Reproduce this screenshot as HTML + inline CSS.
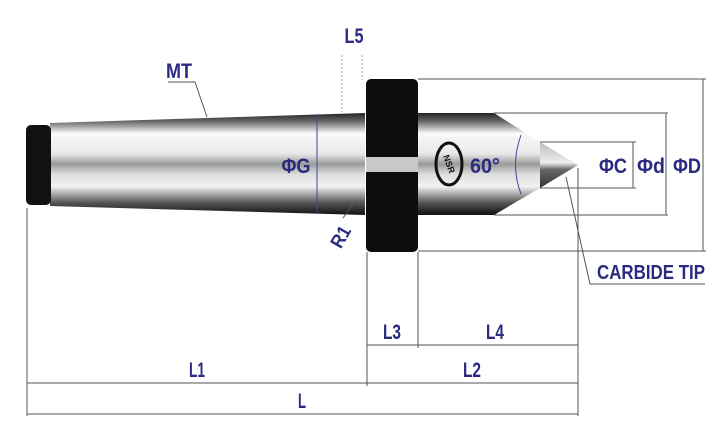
<!DOCTYPE html>
<html><head><meta charset="utf-8"><style>
html,body{margin:0;padding:0;background:#fff;width:728px;height:431px;overflow:hidden}
text{font-family:"Liberation Sans Narrow","Liberation Sans",sans-serif;fill:#2b2a80;font-weight:bold}
</style></head><body>
<svg width="728" height="431" viewBox="0 0 728 431" xmlns="http://www.w3.org/2000/svg">
<defs>
<linearGradient id="sh" x1="0" y1="0" x2="0" y2="1">
<stop offset="0" stop-color="#222"/><stop offset="0.08" stop-color="#666"/><stop offset="0.2" stop-color="#fafafa"/><stop offset="0.4" stop-color="#e8e8e8"/><stop offset="0.5" stop-color="#9a9a9a"/><stop offset="0.6" stop-color="#ddd"/><stop offset="0.72" stop-color="#f2f2f2"/><stop offset="0.88" stop-color="#555"/><stop offset="1" stop-color="#111"/>
</linearGradient>
<linearGradient id="tip" x1="0" y1="0" x2="0" y2="1">
<stop offset="0" stop-color="#bbb"/><stop offset="0.45" stop-color="#eee"/><stop offset="0.6" stop-color="#666"/><stop offset="1" stop-color="#333"/>
</linearGradient>
</defs>
<path d="M50 123 L365 113 L365 215 L50 206 Z" fill="url(#sh)"/>
<rect x="26" y="125" width="25" height="80" rx="5" fill="#111"/>
<rect x="366" y="79" width="52" height="173" rx="5" fill="#0d0d0d"/>
<rect x="366" y="157" width="52" height="15" fill="#c8c8c8"/>
<rect x="418" y="113" width="77" height="102" fill="url(#sh)"/>
<path d="M494 113 L540 142 L540 188 L494 215 Z" fill="url(#sh)"/>
<path d="M540 142 L578 165 L540 188 Z" fill="url(#tip)"/>
<ellipse cx="449" cy="164" rx="13" ry="21" fill="none" stroke="#111" stroke-width="3"/>
<text x="449" y="167" font-size="9" style="fill:#111" text-anchor="middle" transform="rotate(70 449 164)">NSR</text>
<g stroke="#555" stroke-width="1" fill="none">
<line x1="27" y1="208" x2="27" y2="416"/>
<line x1="367" y1="252" x2="367" y2="386"/>
<line x1="418" y1="252" x2="418" y2="348"/>
<line x1="578" y1="168" x2="578" y2="416"/>
<line x1="27" y1="414" x2="578" y2="414"/>
<line x1="27" y1="383" x2="578" y2="383"/>
<line x1="367" y1="345" x2="578" y2="345"/>
<line x1="418" y1="79" x2="706" y2="79"/>
<line x1="418" y1="251" x2="706" y2="251"/>
<line x1="703" y1="79" x2="703" y2="251"/>
<line x1="494" y1="113" x2="668" y2="113"/>
<line x1="494" y1="215" x2="668" y2="215"/>
<line x1="666" y1="113" x2="666" y2="215"/>
<line x1="540" y1="142" x2="636" y2="142"/>
<line x1="540" y1="188" x2="636" y2="188"/>
<line x1="633" y1="142" x2="633" y2="188"/>
<polyline points="168,82 195,82 207,117"/>
<polyline points="566,177 590,284 705,284"/>
<line x1="343" y1="218" x2="356" y2="200"/>
</g>
<g stroke="#aaa" stroke-dasharray="2,2" stroke-width="1">
<line x1="342" y1="55" x2="342" y2="112"/><line x1="362" y1="55" x2="362" y2="80"/>
</g>
<line x1="317" y1="114" x2="317" y2="214" stroke="#3a4aa0" stroke-width="1"/>
<path d="M521 135 Q510 165 521 194" stroke="#3a4aa0" fill="none"/>
<g font-size="21" text-anchor="middle">
<text x="179" y="78" textLength="26" lengthAdjust="spacingAndGlyphs">MT</text>
<text x="354" y="43" textLength="19" lengthAdjust="spacingAndGlyphs">L5</text>
<text x="296" y="173" textLength="29" lengthAdjust="spacingAndGlyphs">ΦG</text>
<text x="485" y="173" textLength="30" lengthAdjust="spacingAndGlyphs">60°</text>
<text x="613" y="173" textLength="28" lengthAdjust="spacingAndGlyphs">ΦC</text>
<text x="651" y="173" textLength="28" lengthAdjust="spacingAndGlyphs">Φd</text>
<text x="687" y="173" textLength="28" lengthAdjust="spacingAndGlyphs">ΦD</text>
<text x="341" y="243" font-size="19" textLength="22" lengthAdjust="spacingAndGlyphs" transform="rotate(-60 341 237)">R1</text>
<text x="651" y="279" font-size="20" textLength="108" lengthAdjust="spacingAndGlyphs">CARBIDE TIP</text>
<text x="392" y="339" textLength="18" lengthAdjust="spacingAndGlyphs">L3</text>
<text x="495" y="339" textLength="18" lengthAdjust="spacingAndGlyphs">L4</text>
<text x="197" y="377" textLength="16" lengthAdjust="spacingAndGlyphs">L1</text>
<text x="472" y="377" textLength="18" lengthAdjust="spacingAndGlyphs">L2</text>
<text x="302" y="408" textLength="8" lengthAdjust="spacingAndGlyphs">L</text>
</g>
</svg>
</body></html>
